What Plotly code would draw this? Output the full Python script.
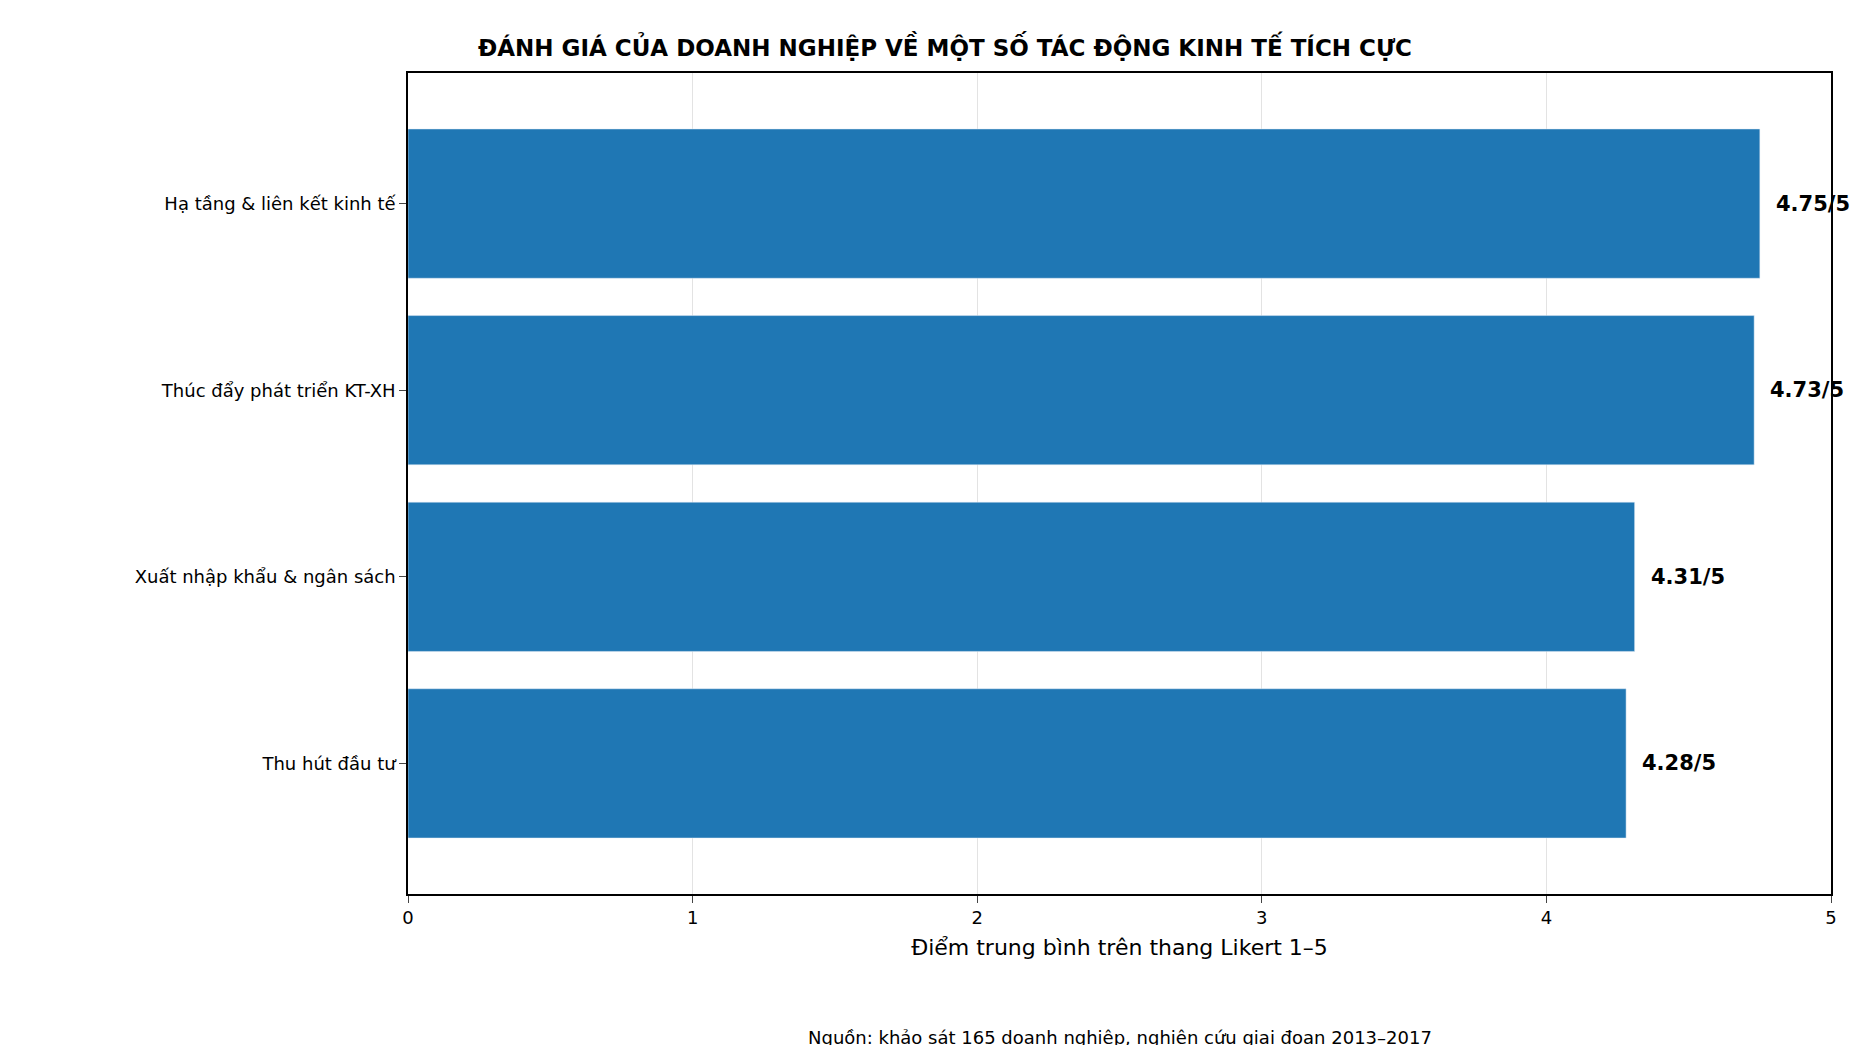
import plotly.graph_objects as go

categories = ["Thu hút đầu tư", "Xuất nhập khẩu & ngân sách", "Thúc đẩy phát triển KT-XH", "Hạ tầng & liên kết kinh tế"]
values = [4.28, 4.31, 4.73, 4.75]
labels = [f"{v:.2f}/5" for v in values]

fig = go.Figure(go.Bar(x=values, y=categories, orientation="h", marker_color="#1f77b4",
                       width=0.8, text=labels, textposition="none"))
for c, v, t in zip(categories, values, labels):
    fig.add_annotation(x=v + 0.05, y=c, text=f"<b>{t}</b>", showarrow=False, xanchor="left",
                       font=dict(size=21, color="black"), cliponaxis=False) if False else \
    fig.add_annotation(x=v + 0.05, y=c, text=f"<b>{t}</b>", showarrow=False, xanchor="left",
                       font=dict(size=21, color="black"))

fig.add_annotation(x=0.5, y=-0.175, xref="paper", yref="paper", showarrow=False,
                   text="Nguồn: khảo sát 165 doanh nghiệp, nghiên cứu giai đoạn 2013–2017",
                   font=dict(size=18, color="black"), xanchor="center", yanchor="middle")
fig.update_layout(
    width=1874, height=1045, plot_bgcolor="white", paper_bgcolor="white",
    font=dict(family="DejaVu Sans", size=18, color="black"),
    margin=dict(l=400, r=51, t=65, b=159),
    title=dict(text="<b>ĐÁNH GIÁ CỦA DOANH NGHIỆP VỀ MỘT SỐ TÁC ĐỘNG KINH TẾ TÍCH CỰC</b>",
               x=0.5, xanchor="center", y=0.962, yanchor="middle", font=dict(size=23)),
    showlegend=False,
    xaxis=dict(range=[0, 5], tickvals=[0, 1, 2, 3, 4, 5], showgrid=True, gridcolor="rgba(200,200,200,0.5)",
               showline=True, linecolor="black", linewidth=1.5, mirror=True, ticks="outside", ticklen=7,
               zeroline=False, title=dict(text="Điểm trung bình trên thang Likert 1–5", standoff=12)),
    yaxis=dict(range=[-0.7, 3.7], showline=True, linecolor="black", linewidth=1.5, mirror=True,
               ticks="outside", ticklen=7, showgrid=False),
)
fig.write_html("out.html")
